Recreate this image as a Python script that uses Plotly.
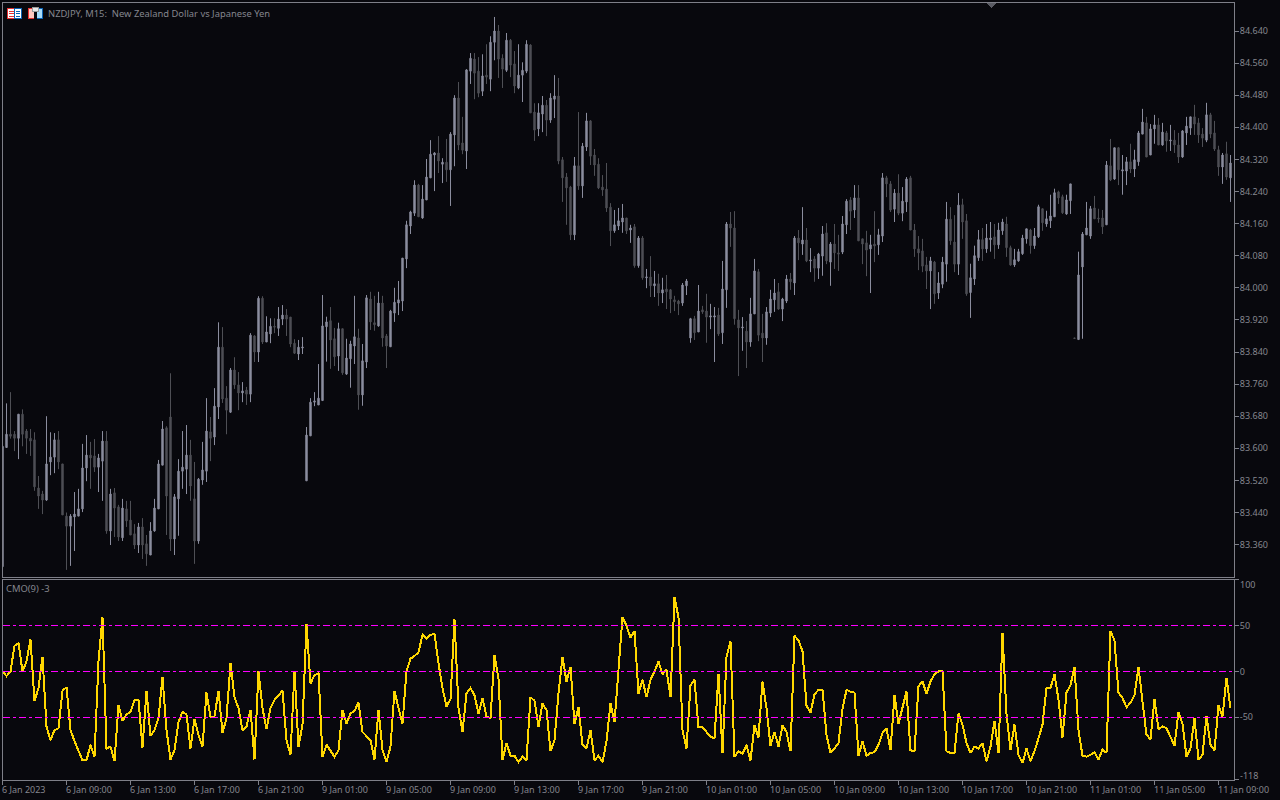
import plotly.graph_objects as go

# Prices in broker points (NZDJPY has 3 digits: 84640 points = 84.640)
opens = [
83305,83602,83635,83635,83625,83685,83643,83625,83621,83501,
83486,83471,83566,83578,83621,83561,83431,83406,83429,83431,
83449,83551,83583,83581,83553,83568,83618,83394,83489,83454,
83377,83449,83421,83387,83359,83404,83362,83334,83394,83449,
83558,83651,83678,83374,83474,83543,83548,83583,83474,83369,
83521,83543,83641,83628,83703,83852,83725,83690,83795,83758,
83738,83745,83735,83880,83840,83974,83865,83885,83904,83899,
83922,83932,83927,83862,83835,83850,83519,83631,83715,83708,
83719,83903,83918,83873,83830,83898,83785,83823,83855,83875,
83733,83815,83972,83913,83905,83962,83880,83853,83937,83962,
83967,84072,84154,84186,84256,84174,84219,84274,84331,84336,
84308,84313,84294,84381,84473,84361,84341,84540,84570,84540,
84490,84530,84520,84612,84640,84572,84542,84617,84558,84498,
84530,84540,84605,84438,84396,84433,84455,84418,84470,84478,
84319,84276,84251,84132,84304,84254,84351,84416,84331,84308,
84251,84246,84201,84142,84154,84164,84174,84144,84152,84055,
84124,84025,84027,84005,84010,83987,83997,83995,83970,83967,
83962,84005,83875,83923,83890,83945,83942,83927,83927,83932,
83888,83995,84159,84149,83920,83900,83892,83865,83935,84040,
83887,83875,83937,83970,83990,83947,83967,84022,84012,84124,
84109,84119,84067,84072,84049,84079,84137,84064,84109,84087,
84089,84157,84219,84194,84224,84122,84112,84097,84109,84107,
84129,84274,84259,84196,84236,84186,84214,84274,84144,84097,
84092,84057,84042,84064,83987,84009,84059,84171,84114,84059,
84207,84167,83988,84022,84075,84120,84097,84120,84127,84107,
84142,84159,84100,84057,84067,84085,84122,84144,84105,84127,
84197,84159,84167,84177,84239,84227,84184,84217,83875,83871,
84052,84132,84129,84199,84174,84174,84157,84304,84271,84349,
84291,84291,84314,84296,84314,84383,84411,84331,84396,84406,
84356,84386,84366,84368,84356,84326,84386,84398,84426,84411,
84383,84368,84431,84386,84344,84301,84334,84274]

highs = [
83605,83712,83740,83643,83685,83697,83648,83648,83640,83531,
83494,83680,83640,83638,83643,83561,83440,83436,83491,83499,
83611,83633,83616,83623,83586,83643,83643,83499,83501,83459,
83474,83469,83469,83411,83414,83426,83384,83416,83474,83571,
83668,83655,83787,83486,83573,83643,83658,83621,83566,83526,
83616,83725,83678,83750,83914,83902,83755,83800,83827,83790,
83765,83753,83887,83882,83979,83979,83929,83924,83924,83952,
83957,83947,83927,83872,83870,83877,83653,83725,83740,83810,
83982,83928,83952,83900,83913,83898,83873,83868,83980,83898,
83860,83982,83990,83980,83990,83980,83885,83945,84000,84017,
84074,84167,84192,84268,84259,84256,84321,84368,84338,84378,
84323,84371,84388,84480,84513,84426,84545,84585,84585,84575,
84582,84607,84627,84675,84655,84582,84635,84620,84590,84607,
84562,84617,84607,84460,84460,84478,84468,84485,84530,84523,
84326,84286,84254,84326,84438,84361,84436,84418,84346,84323,
84281,84311,84211,84194,84199,84209,84174,84157,84159,84129,
84129,84047,84079,84042,84035,84025,84032,83997,83980,83970,
84012,84022,83925,83930,84007,83955,83985,83960,83952,83950,
84067,84164,84189,84191,83945,83927,83917,83975,84072,84047,
83935,83952,83995,84022,84012,83975,84032,84037,84129,84144,
84201,84149,84099,84079,84087,84154,84161,84114,84159,84132,
84179,84221,84226,84256,84256,84122,84142,84132,84191,84147,
84286,84279,84266,84246,84283,84251,84276,84279,84159,84129,
84122,84077,84077,84067,84039,84077,84214,84201,84181,84236,
84222,84184,84060,84105,84144,84149,84159,84164,84159,84162,
84172,84177,84105,84097,84097,84132,84147,84147,84149,84207,
84197,84192,84232,84247,84242,84232,84232,84259,83875,84090,
84139,84214,84204,84229,84197,84194,84316,84371,84349,84351,
84331,84326,84359,84344,84391,84446,84426,84408,84431,84423,
84411,84391,84406,84393,84386,84393,84426,84426,84456,84423,
84398,84461,84436,84416,84354,84336,84364,84331]

lows = [
83305,83601,83624,83593,83573,83605,83586,83581,83494,83449,
83436,83469,83533,83538,83548,83434,83297,83307,83344,83431,
83441,83518,83499,83541,83491,83469,83387,83359,83379,83369,
83369,83404,83384,83349,83339,83324,83307,83334,83392,83449,
83558,83384,83344,83334,83382,83499,83486,83469,83312,83362,
83509,83516,83568,83608,83673,83713,83635,83688,83748,83695,
83715,83708,83715,83815,83815,83860,83865,83862,83887,83880,
83907,83880,83852,83835,83820,83835,83519,83631,83705,83708,
83719,83816,83798,83805,83793,83783,83783,83751,83810,83696,
83706,83800,83895,83893,83903,83853,83800,83853,83915,83932,
83942,84049,84134,84179,84177,84172,84219,84274,84241,84286,
84261,84264,84204,84303,84343,84333,84296,84508,84470,84475,
84478,84508,84490,84567,84523,84498,84538,84525,84485,84495,
84463,84535,84436,84366,84378,84388,84378,84411,84423,84308,
84214,84157,84119,84119,84244,84224,84341,84306,84279,84246,
84229,84189,84104,84137,84144,84137,84134,84112,84050,84050,
84020,83999,83977,83977,83955,83962,83947,83937,83942,83932,
83955,83982,83863,83870,83890,83935,83863,83897,83815,83880,
83860,83950,84102,83908,83780,83843,83800,83853,83935,83867,
83815,83858,83927,83940,83945,83917,83962,83995,83982,84069,
84082,84064,84039,84015,84022,84030,84059,84005,84047,84042,
84084,84134,84144,84174,84117,84059,84029,83987,84064,84082,
84114,84226,84189,84164,84181,84166,84189,84144,84077,84044,
84039,83997,83947,83960,83972,83999,84015,84107,84039,84032,
84122,83980,83925,84007,84067,84067,84087,84090,84072,84097,
84132,84077,84055,84052,84065,84082,84110,84085,84097,84124,
84142,84152,84149,84177,84209,84184,84182,84184,83874,83871,
83873,84132,84122,84172,84162,84134,84157,84266,84269,84256,
84232,84256,84286,84276,84304,84383,84326,84331,84359,84356,
84354,84339,84341,84336,84311,84324,84356,84381,84381,84361,
84351,84363,84373,84341,84279,84259,84269,84214]

closes = [
83605,83635,83630,83625,83685,83635,83625,83618,83504,83481,
83471,83561,83578,83621,83566,83434,83406,83431,83436,83449,
83551,83583,83576,83553,83576,83618,83394,83486,83451,83379,
83451,83419,83384,83359,83404,83359,83337,83394,83451,83561,
83648,83481,83374,83479,83543,83553,83583,83506,83369,83523,
83546,83643,83625,83705,83852,83723,83695,83795,83758,83738,
83743,83735,83882,83840,83974,83865,83890,83904,83902,83922,
83932,83922,83860,83837,83852,83852,83633,83715,83718,83725,
83905,83915,83870,83828,83898,83788,83825,83860,83878,83733,
83818,83975,83915,83908,83962,83875,83855,83942,83964,83970,
84074,84157,84189,84256,84177,84221,84276,84333,84336,84316,
84313,84294,84383,84473,84356,84343,84543,84572,84535,84485,
84528,84525,84612,84640,84570,84545,84617,84555,84503,84530,
84542,84607,84436,84393,84436,84455,84418,84473,84478,84316,
84274,84249,84132,84304,84254,84353,84416,84328,84306,84249,
84244,84199,84142,84157,84167,84174,84142,84149,84055,84124,
84025,84027,84005,84010,83987,83995,83990,83972,83965,83960,
84007,84017,83923,83888,83942,83940,83927,83930,83930,83885,
83997,84159,84149,83923,83900,83902,83865,83935,84042,83882,
83875,83940,83972,83987,83947,83972,84022,84015,84124,84112,
84119,84067,84069,84049,84084,84134,84067,84109,84087,84084,
84159,84216,84191,84224,84117,84109,84094,84107,84104,84132,
84274,84259,84194,84236,84186,84216,84271,84144,84097,84087,
84054,84042,84067,83985,84012,84064,84171,84117,84059,84206,
84164,83985,84025,84080,84120,84097,84124,84124,84107,84144,
84164,84100,84057,84070,84090,84124,84147,84105,84129,84202,
84162,84172,84179,84237,84224,84187,84219,84259,83874,84032,
84134,84149,84197,84172,84172,84152,84306,84269,84349,84294,
84294,84314,84296,84319,84386,84413,84326,84396,84406,84356,
84388,84366,84368,84356,84326,84391,84403,84426,84408,84381,
84373,84431,84383,84346,84301,84331,84276,84311]

cmo_values = [
0,-5,0,28,31,0,11,35,-32,-18,
16,-60,-75,-64,-62,-21,-17,-64,-76,-87,
-97,-97,-80,-93,11,59,-84,-82,-98,-37,
-54,-47,-44,-31,-31,-83,-21,-70,-64,-51,
-6,-64,-96,-86,-55,-44,-47,-84,-52,-69,
-82,-23,-50,-49,-21,-67,-51,9,-28,-40,
-64,-60,-42,-96,0,-40,-63,-40,-31,-26,
-21,-75,-91,1,-82,-58,52,-13,-4,-2,
-93,-80,-86,-93,-86,-42,-57,-46,-43,-34,
-66,-70,-75,-96,-42,-86,-99,-82,-21,-40,
-57,0,14,17,21,40,36,40,41,9,
-18,-38,-30,57,-40,-66,-24,-18,-26,-46,
-29,-49,-51,18,-8,-97,-78,-92,-92,-99,
-93,-97,-28,-32,-60,-35,-42,-87,-75,-24,
16,-11,5,-57,-39,-80,-84,-64,-97,-92,
-99,-76,-35,-55,7,59,50,37,44,-24,
-9,-28,-9,0,11,-3,2,-28,81,59,
-64,-84,-15,-9,-61,-61,-66,-71,-73,-3,
-89,16,33,-93,-87,-90,-80,-97,-59,-72,
-11,-40,-81,-66,-82,-59,-66,-87,39,34,
22,-37,-45,-25,-20,-20,-69,-89,-84,-78,
-41,-20,-22,-23,-92,-76,-92,-89,-88,-80,
-67,-62,-86,-26,-57,-38,-22,-86,-87,-16,
-11,-24,-11,-3,0,1,-87,-89,-89,-46,
-58,-78,-89,-82,-84,-78,-98,-82,-54,-89,
42,-46,-86,-58,-91,-100,-84,-98,-87,-73,
-58,-18,-18,-3,-31,-72,-23,-15,5,-64,
-92,-93,-91,-88,-96,-85,-89,44,34,-23,
-29,-39,-34,-26,5,-33,-69,-74,-30,-63,
-60,-62,-71,-81,-44,-57,-93,-84,-51,-96,
-91,-49,-80,-86,-37,-49,-7,-40]

price_ticks = [83.36,83.44,83.52,83.60,83.68,83.76,83.84,83.92,84.00,84.08,
               84.16,84.24,84.32,84.40,84.48,84.56,84.64]
cmo_levels = [50, 0, -50]
cmo_ticks = [100, 50, 0, -50, -118]
time_tick_bars = list(range(0, 308, 16))
time_tick_labels = [
 "6 Jan 2023","6 Jan 09:00","6 Jan 13:00","6 Jan 17:00","6 Jan 21:00",
 "9 Jan 01:00","9 Jan 05:00","9 Jan 09:00","9 Jan 13:00","9 Jan 17:00","9 Jan 21:00",
 "10 Jan 01:00","10 Jan 05:00","10 Jan 09:00","10 Jan 13:00","10 Jan 17:00","10 Jan 21:00",
 "11 Jan 01:00","11 Jan 05:00","11 Jan 09:00"]

BG = "#08080D"
FRAME = "#7E7F88"
TEXT = "#85868E"
UP = "#8B8D9E"
DOWN = "#4E4F55"
FONT = "Noto Sans"
W, H = 1280, 800

def fx(px): return px / W
def fy(py): return 1 - py / H

bars = list(range(len(opens)))
fig = go.Figure()
fig.add_trace(go.Candlestick(
    x=bars,
    open=[v / 1000 for v in opens], high=[v / 1000 for v in highs],
    low=[v / 1000 for v in lows], close=[v / 1000 for v in closes],
    increasing=dict(line=dict(color=UP, width=1), fillcolor=UP),
    decreasing=dict(line=dict(color=DOWN, width=1), fillcolor=DOWN),
    whiskerwidth=0, xaxis="x", yaxis="y", hoverinfo="skip", showlegend=False))
fig.add_trace(go.Scatter(
    x=bars, y=cmo_values, mode="lines", xaxis="x2", yaxis="y2",
    line=dict(color="#FFD700", width=2), hoverinfo="skip", showlegend=False))

for lvl in cmo_levels:
    fig.add_shape(type="line", xref="x2 domain", yref="y2", x0=0, x1=1, y0=lvl, y1=lvl,
                  line=dict(color="#FF00FF", width=1, dash="7px,3px,3px,3px"))

axis_common = dict(showgrid=False, zeroline=False, showline=True, linecolor=FRAME,
                   linewidth=1, mirror=True, tickcolor=FRAME, tickwidth=1)
xdom = [fx(2.5), fx(1234)]
xrange_bars = [0, (1234 - 2.5) / 4]
tick_font = dict(family=FONT, size=9, color=TEXT)
head_font = dict(family=FONT, size=9.4, color=TEXT)

fig.update_layout(
    width=W, height=H, autosize=False, margin=dict(l=0, r=0, t=0, b=0),
    paper_bgcolor=BG, plot_bgcolor=BG, showlegend=False, boxgap=0.5,
    font=dict(family=FONT, size=9, color=TEXT),
    xaxis=dict(domain=xdom, anchor="y", range=xrange_bars, showticklabels=False,
               ticks="", rangeslider=dict(visible=False), **axis_common),
    yaxis=dict(domain=[fy(577), fy(3)], anchor="x", side="right",
               range=[84.640 - (577 - 31) / 401.25, 84.640 - (3 - 31) / 401.25],
               tickvals=price_ticks, tickformat=".3f", ticks="outside", ticklen=4,
               ticklabelstandoff=-1, tickfont=tick_font, **axis_common),
    xaxis2=dict(domain=xdom, anchor="y2", range=xrange_bars, tickvals=time_tick_bars,
                ticks="outside", ticklen=4, showticklabels=False, **axis_common),
    yaxis2=dict(domain=[fy(779.6), fy(579.9)], anchor="x2", side="right",
                range=[-118, 100], tickvals=cmo_ticks,
                ticktext=["", "50", "0", "-50", ""], ticks="outside", ticklen=4,
                ticklabelstandoff=-1, tickfont=tick_font, **axis_common),
)

for b, label in zip(time_tick_bars, time_tick_labels):
    fig.add_annotation(x=b, xref="x2", y=fy(789.5), yref="paper", text=label, showarrow=False,
                       xanchor="left", yanchor="middle", xshift=-0.5, font=tick_font,
                       borderpad=0, borderwidth=0)

for txt, py in (("100", 584.5), ("-118", 775)):
    fig.add_annotation(x=fx(1239), xref="paper", y=fy(py), yref="paper", text=txt, showarrow=False,
                       xanchor="left", yanchor="middle", font=tick_font, borderpad=0)

fig.add_annotation(x=fx(47), xref="paper", y=fy(13.5), yref="paper",
                   text="NZDJPY, M15:  New Zealand Dollar vs Japanese Yen", showarrow=False,
                   xanchor="left", yanchor="middle", font=head_font, borderpad=0)
fig.add_annotation(x=fx(5), xref="paper", y=fy(588.5), yref="paper", text="CMO(9) -3",
                   showarrow=False, xanchor="left", yanchor="middle", font=head_font, borderpad=0)

def rect(x0, y0, x1, y1, fill=None, line=None):
    fig.add_shape(type="rect", xref="paper", yref="paper",
                  x0=fx(x0), x1=fx(x1), y0=fy(y0), y1=fy(y1), fillcolor=fill,
                  line=dict(color=line, width=1) if line else dict(width=0))

# header icons
RED, BLUE = "#E53030", "#0A62B4"
rect(7.5, 8.5, 14.5, 18.5, "#FFFFFF", RED)
rect(14.5, 8.5, 21.5, 18.5, "#FFFFFF", BLUE)
for yy in (11, 13, 15.5):
    rect(9, yy, 14, yy + 1, RED)
    rect(16, yy, 20, yy + 1, BLUE)
rect(28.5, 8.5, 34.5, 18.5, "#FFC8C0", RED)
rect(36.5, 8.5, 42.5, 18.5, "#A8DCFA", BLUE)
rect(34, 8, 37, 18.7, BG)
rect(32.5, 7.5, 38.5, 11.5, "#E8E8E8", "#9A9A9A")

# small scroll marker on the top frame
fig.add_shape(type="path", xref="paper", yref="paper", line=dict(width=0), fillcolor="#5A5B63",
              path=f"M {fx(986)} {fy(3)} L {fx(996.5)} {fy(3)} L {fx(991.3)} {fy(8)} Z")

page_script = """
document.body.style.margin='0';document.body.style.overflow='hidden';
document.querySelectorAll('.scatterlayer .js-line, .shapelayer path').forEach(function(p){
  p.style.shapeRendering='crispEdges';
});
"""
fig.write_html("out.html", config=dict(displayModeBar=False), post_script=page_script)
